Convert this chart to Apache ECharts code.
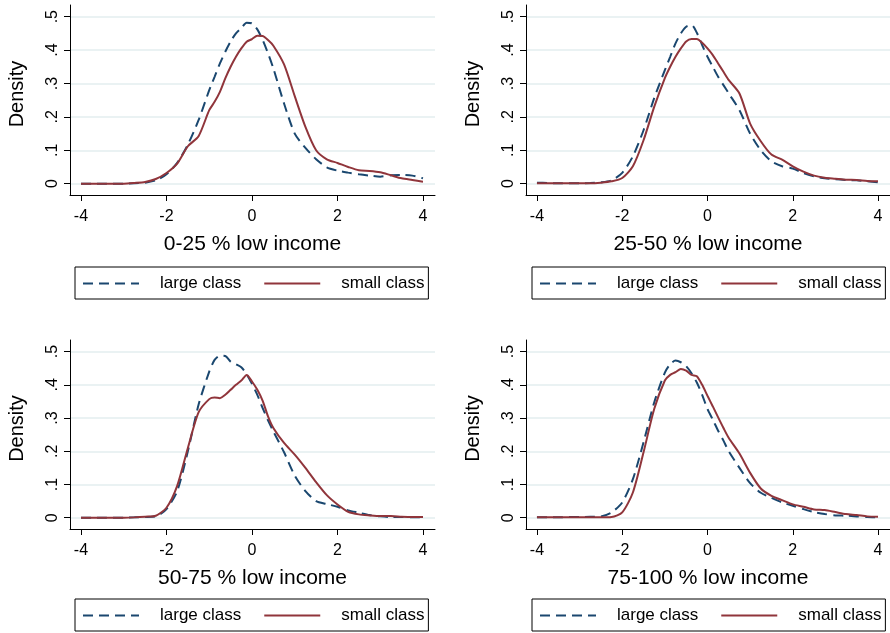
<!DOCTYPE html>
<html>
<head>
<meta charset="utf-8">
<script src="https://cdn.jsdelivr.net/npm/echarts@6/dist/echarts.min.js"></script>
<style>
html,body{margin:0;padding:0;background:#fff;}
#chart{width:890px;height:633px;}
</style>
</head>
<body>
<div id="chart"></div>
<script>
const xs = [-4,-3.75,-3.5,-3.25,-3,-2.75,-2.5,-2.25,-2,-1.75,-1.5,-1.25,
  -1,-0.875,-0.75,-0.625,-0.5,-0.375,-0.25,-0.125,0,0.125,0.25,0.375,0.5,
  0.75,1,1.25,1.5,1.75,2,2.25,2.5,2.75,3,3.25,3.5,3.75,4];
const panelTitles = ['0-25 % low income','25-50 % low income','50-75 % low income','75-100 % low income'];
const seriesNames = ['large class','small class'];
const xTicks = [-4,-2,0,2,4];
const yTicks = [0,0.1,0.2,0.3,0.4,0.5];

const p1Large = [0,0,0,0,0,0.001,0.003,0.01,0.028,0.062,0.117,0.19,
  0.28,0.32,0.36,0.395,0.426,0.45,0.466,0.482,0.48,0.462,0.43,0.39,0.345,
  0.24,0.15,0.107,0.073,0.049,0.039,0.033,0.028,0.024,0.021,0.025,0.026,0.024,0.016];
const p1Small = [0,0,0,0,0,0.002,0.005,0.014,0.032,0.06,0.112,0.142,
  0.22,0.245,0.275,0.315,0.35,0.38,0.405,0.425,0.433,0.443,0.442,0.43,0.413,
  0.357,0.262,0.17,0.1,0.073,0.062,0.05,0.04,0.038,0.034,0.025,0.016,0.011,0.006];
const p2Large = [0.003,0.002,0.001,0.001,0.001,0.002,0.004,0.01,0.032,0.082,0.16,0.256,
  0.34,0.38,0.42,0.45,0.47,0.475,0.452,0.415,0.38,0.35,0.32,0.295,0.27,
  0.22,0.15,0.1,0.067,0.052,0.045,0.032,0.022,0.016,0.013,0.011,0.01,0.007,0.004];
const p2Small = [0.001,0.001,0.001,0.001,0.001,0.001,0.003,0.007,0.017,0.052,0.13,0.23,
  0.316,0.35,0.38,0.405,0.426,0.433,0.433,0.422,0.405,0.385,0.36,0.335,0.31,
  0.27,0.18,0.127,0.087,0.072,0.052,0.036,0.024,0.018,0.015,0.012,0.011,0.008,0.007];
const p3Large = [0,0,0,0,0,0.001,0.002,0.004,0.026,0.08,0.2,0.34,
  0.44,0.475,0.488,0.487,0.47,0.462,0.453,0.432,0.403,0.37,0.33,0.293,0.26,
  0.197,0.127,0.08,0.05,0.041,0.033,0.022,0.015,0.008,0.004,0.002,0.002,0.001,0.001];
const p3Small = [0,0,0,0,0,0.001,0.003,0.006,0.03,0.096,0.21,0.317,
  0.357,0.362,0.36,0.37,0.385,0.4,0.413,0.43,0.41,0.385,0.352,0.305,0.27,
  0.225,0.19,0.15,0.107,0.068,0.04,0.018,0.01,0.007,0.005,0.005,0.003,0.002,0.002];
const p4Large = [0.001,0.001,0.001,0.002,0.002,0.003,0.004,0.016,0.046,0.116,0.227,0.347,
  0.437,0.462,0.473,0.468,0.456,0.435,0.407,0.37,0.327,0.295,0.262,0.232,0.2,
  0.15,0.104,0.075,0.06,0.046,0.036,0.026,0.017,0.011,0.007,0.006,0.004,0.002,0.001];
const p4Small = [0.001,0.001,0.001,0.001,0.001,0.001,0.001,0.002,0.016,0.076,0.197,0.327,
  0.413,0.43,0.438,0.448,0.443,0.43,0.426,0.4,0.367,0.335,0.302,0.27,0.24,
  0.193,0.135,0.088,0.066,0.053,0.04,0.033,0.025,0.023,0.017,0.011,0.008,0.004,0.003];

const panels = [[p1Large,p1Small],[p2Large,p2Small],[p3Large,p3Small],[p4Large,p4Small]];
const colors = ['#1a476f','#90353b'];
const FONT = '"Liberation Sans", Arial, Helvetica, sans-serif';

const gridPos = [
  {left:70, top:5, width:365, height:190},
  {left:526, top:5, width:364, height:190},
  {left:70, top:340, width:365, height:189},
  {left:526, top:340, width:364, height:189}
];
const legendPos = [
  {left:75, top:267},
  {left:532, top:267},
  {left:75, top:599},
  {left:532, top:599}
];

const grid = gridPos.map(g => Object.assign({containLabel:false}, g));
const xAxis = panelTitles.map((t,i) => ({
  type:'value', gridIndex:i, min:-4.257, max:4.281,
  name:t, nameLocation:'middle', nameGap:39,
  nameTextStyle:{fontSize:21, color:'#000', fontFamily:FONT},
  axisLine:{show:true, onZero:false, lineStyle:{color:'#000', width:1}},
  axisTick:{show:true, customValues:xTicks, length:6, lineStyle:{color:'#000', width:1}},
  axisLabel:{customValues:xTicks, fontSize:16, color:'#000', fontFamily:FONT, margin:14, formatter:v=>String(v)},
  splitLine:{show:false}
}));
const yAxis = panelTitles.map((t,i) => ({
  type:'value', gridIndex:i, min:-0.034, max:0.535,
  name:'Density', nameLocation:'middle', nameGap:43, nameRotate:90,
  nameTextStyle:{fontSize:20, color:'#000', fontFamily:FONT, padding:[0,0,0,12]},
  axisLine:{show:true, onZero:false, lineStyle:{color:'#000', width:1}},
  axisTick:{show:true, customValues:yTicks, length:6, lineStyle:{color:'#000', width:1}},
  axisLabel:{customValues:yTicks, fontSize:16, color:'#000', fontFamily:FONT, rotate:90, margin:9,
    formatter:v=> v===0 ? '0' : String(Math.round(v*10)/10).replace(/^0\./,'.')},
  splitLine:{show:true, lineStyle:{color:'#eaf2f3', width:2}}
}));

const series = [];
panels.forEach((pair,i) => {
  pair.forEach((vals,k) => {
    series.push({
      type:'line', name:seriesNames[k], xAxisIndex:i, yAxisIndex:i,
      data: xs.map((x,j)=>[x, vals[j]]),
      showSymbol:false, symbol:'none', smooth:0.25,
      lineStyle:{color:colors[k], width:2, type: k===0 ? [10,6] : 'solid'},
      itemStyle:{color:colors[k]},
      emphasis:{disabled:true}, animation:false
    });
  });
});

const legend = legendPos.map(p => ({
  left:p.left, top:p.top,
  data:seriesNames,
  orient:'horizontal',
  borderColor:'#000', borderWidth:1, borderRadius:0,
  padding:[8,4,7,7],
  itemWidth:56, itemHeight:14, itemGap:22,
  itemStyle:{color:'rgba(0,0,0,0)', borderWidth:0, borderColor:'rgba(0,0,0,0)', opacity:0},
  textStyle:{fontSize:17, color:'#000', fontFamily:FONT, padding:[0,0,0,16]},
  selectedMode:false
}));

const chart = echarts.init(document.getElementById('chart'), null, {renderer:'canvas'});
chart.setOption({
  backgroundColor:'#fff',
  animation:false,
  grid, xAxis, yAxis, series, legend
});
</script>
</body>
</html>
